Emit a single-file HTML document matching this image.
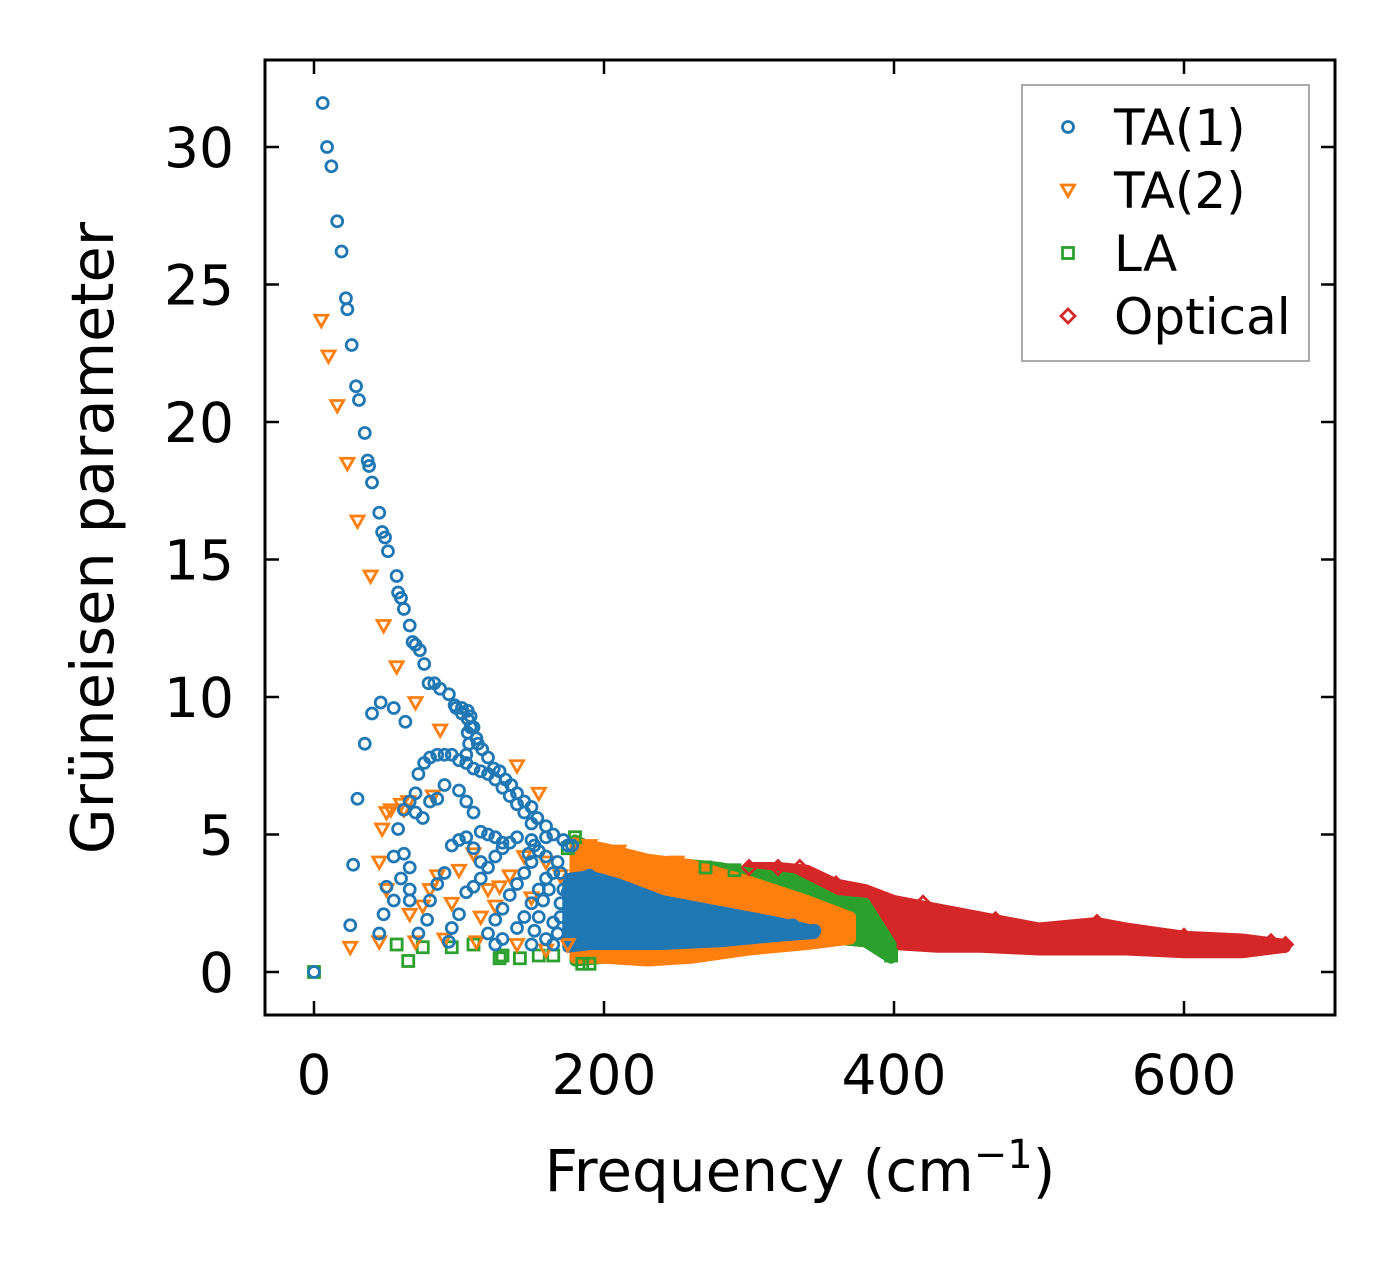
<!DOCTYPE html>
<html><head><meta charset="utf-8"><style>
html,body{margin:0;padding:0;background:#fff;}
svg{display:block;font-family:"DejaVu Sans","Liberation Sans",sans-serif;}
</style></head><body>
<svg id="chart" width="1394" height="1264" viewBox="0 0 1394 1264" xmlns="http://www.w3.org/2000/svg">
<g id="bands"></g><g id="marks"></g><g id="axes"></g><g id="legend"></g>
</svg>
<script>
// ---- data ----
const xTicks = [0, 200, 400, 600];
const yTicks = [0, 5, 10, 15, 20, 25, 30];
const seriesNames = ["TA(1)", "TA(2)", "LA", "Optical"];
const seriesColors = ["#1f77b4", "#ff7f0e", "#2ca02c", "#d62728"];

// dense bands: x, low, high
const opticalBandX = [300,320,340,360,380,400,430,460,500,540,560,600,640,670];
const opticalBandHi = [3.8,3.8,3.7,3.2,3.0,2.6,2.3,2.0,1.6,1.8,1.6,1.3,1.2,1.0];
const opticalBandLo = [1.5,1.4,1.3,1.2,1.1,1.0,0.9,0.9,0.8,0.8,0.8,0.7,0.7,0.9];
const laBandX = [180,200,240,280,300,330,360,380,398];
const laBandHi = [4.8,4.3,4.0,3.8,3.6,3.4,2.6,2.5,1.0];
const laBandLo = [0.4,0.5,0.6,0.7,0.9,1.1,1.2,1.1,0.5];
const ta2BandX = [180,200,230,260,300,340,370];
const ta2BandHi = [4.7,4.5,4.1,3.9,3.3,2.6,2.0];
const ta2BandLo = [0.5,0.5,0.4,0.5,0.8,1.0,1.2];
const ta1BandX = [175,190,210,240,280,320,345];
const ta1BandHi = [3.4,3.5,3.2,2.6,2.2,1.8,1.5];
const ta1BandLo = [0.9,1.0,1.0,1.0,1.1,1.3,1.4];

// scattered points
const ta1Points = [[0,0],[6,31.6],[9,30.0],[12,29.3],[16,27.3],[19,26.2],[22,24.5],[23,24.1],[26,22.8],[29,21.3],[31,20.8],[35,19.6],[37,18.6],[38,18.4],[40,17.8],[45,16.7],[47,16],[49,15.8],[51,15.3],[57,14.4],[58,13.8],[60,13.6],[62,13.2],[66,12.6],[68,12],[70,11.9],[73,11.7],[76,11.2],[79,10.5],[83,10.5],[87,10.3],[93,10.1],[98,9.6],[97,9.7],[102,9.6],[106,9.5],[108,9.3],[110,8.9],[113,8.3],[106,8.7],[107,8.3],[105,7.9],[102,9.4],[106,9.2],[108,8.9],[112,8.5],[116,8.1],[120,7.8],[124,7.4],[128,7.3],[132,7.0],[136,6.8],[140,6.5],[145,6.2],[150,6.0],[154,5.6],[160,5.3],[165,5.0],[172,4.8],[178,4.6],
[40,9.4],[46,9.8],[55,9.6],[35,8.3],[30,6.3],[27,3.9],[25,1.7],[63,9.1],[70,6.5],[72,7.2],[76,7.6],[80,7.8],[85,7.9],[90,7.9],[95,7.9],[100,7.7],[105,7.6],[110,7.4],[115,7.3],[120,7.2],[125,7.0],[130,6.7],[135,6.4],[140,6.1],[145,5.8],[150,5.4],
[45,1.4],[48,2.1],[50,3.1],[55,4.2],[58,5.2],[62,5.9],[66,6.2],[70,5.8],[75,5.6],[80,6.2],[85,6.3],[90,6.8],[100,6.6],[105,6.2],[110,5.8],[115,5.1],[120,5.0],[125,4.9],[130,4.7],[140,4.9],[150,4.8],[160,4.9],[175,4.6],
[55,2.6],[60,3.4],[62,4.3],[66,3.8],[66,3.0],[66,2.6],[72,1.4],[78,1.9],[80,2.6],[85,3.2],[90,3.6],[95,4.6],[100,4.8],[105,4.9],[110,4.5],[115,4.0],[93,1.1],[95,1.6],[100,2.1],[105,2.9],[110,3.1],[115,3.4],[120,3.8],[125,4.2],[130,4.5],[135,4.7],[120,1.4],[125,1.9],[130,2.3],[135,2.8],[140,3.2],[145,3.6],[150,4.0],[125,1.0],[130,1.2],[140,1.6],[145,2.0],[150,2.5],[155,3.0],[160,3.4],[165,3.6],[170,3.6],[160,1.2],[165,1.8],[170,2.5],[175,2.9],[180,3.2],[185,3.4],[190,3.5],[200,3.3],[210,2.9],[230,2.6],[260,2.0],[290,1.9],[330,1.7],[345,1.5],
[150,1.0],[152,1.5],[155,2.0],[158,2.6],[162,3.0],[165,1.0],[168,1.4],[170,2.0],[172,3.0],[155,4.4],[160,4.2],[168,4.0],[152,4.6],[148,4.3]];
const ta2Points = [[5,23.7],[10,22.4],[16,20.6],[23,18.5],[30,16.4],[39,14.4],[48,12.6],[57,11.1],[70,9.8],[87,8.8],[25,0.9],[45,1.1],[47,5.2],[45,4.0],[50,3.0],[50,5.8],[53,5.9],[60,6.1],[62,5.9],[65,6.2],[66,2.1],[70,1.1],[75,2.4],[80,3.0],[82,6.4],[85,3.5],[90,1.2],[95,2.5],[100,3.7],[110,4.3],[115,2.0],[120,3.0],[125,2.4],[128,3.1],[135,3.5],[140,7.5],[145,4.2],[150,2.7],[155,6.5],[160,4.0],[170,3.5],[175,1.0],[112,1.1],[140,1.0],[160,0.8],[190,4.6],[210,4.4],[250,4.0]];
const laPoints = [[0,0],[57,1.0],[65,0.4],[75,0.9],[95,0.9],[110,1.0],[128,0.5],[130,0.6],[142,0.5],[155,0.6],[165,0.6],[180,4.9],[175,4.5],[185,0.3],[190,0.3],[270,3.8],[290,3.7],[398,0.6]];
const opticalPoints = [[300,3.8],[320,3.8],[335,3.8],[360,3.2],[420,2.5],[470,1.9],[540,1.8],[600,1.3],[660,1.1],[670,1.0]];

// ---- scales ----
const X0 = 314, XS = 1.45, Y0 = 972, YS = 27.5;
const sx = v => X0 + v * XS;
const sy = v => Y0 - v * YS;
const NS = "http://www.w3.org/2000/svg";
function mk(tag, attrs, parent) {
  const e = document.createElementNS(NS, tag);
  for (const k in attrs) e.setAttribute(k, attrs[k]);
  parent.appendChild(e); return e;
}
const bands = document.getElementById("bands");
const marks = document.getElementById("marks");
const axes = document.getElementById("axes");
const legend = document.getElementById("legend");

function band(xs, lo, hi, color, name) {
  let pts = xs.map((x, i) => sx(x) + "," + sy(hi[i]));
  for (let i = xs.length - 1; i >= 0; i--) pts.push(sx(xs[i]) + "," + sy(lo[i]));
  const p = mk("polygon", {points: pts.join(" "), fill: color, stroke: color, "stroke-width": 11, "stroke-linejoin": "round"}, bands);
  
  
}
function marker(kind, cx, cy, color, parent) {
  let e;
  const sw = 2.8;
  if (kind === 0) e = mk("circle", {cx: cx, cy: cy, r: 5.5, fill: "none", stroke: color, "stroke-width": sw}, parent);
  else if (kind === 1) e = mk("polygon", {points: `${cx-6.5},${cy-5} ${cx+6.5},${cy-5} ${cx},${cy+6.5}`, fill: "none", stroke: color, "stroke-width": sw}, parent);
  else if (kind === 2) e = mk("rect", {x: cx-5.5, y: cy-5.5, width: 11, height: 11, fill: "none", stroke: color, "stroke-width": sw}, parent);
  else e = mk("polygon", {points: `${cx},${cy-7} ${cx+7},${cy} ${cx},${cy+7} ${cx-7},${cy}`, fill: "none", stroke: color, "stroke-width": sw}, parent);
  return e;
}
band(opticalBandX, opticalBandLo, opticalBandHi, seriesColors[3], "optical-band");
band(laBandX, laBandLo, laBandHi, seriesColors[2], "la-band");
band(ta2BandX, ta2BandLo, ta2BandHi, seriesColors[1], "ta2-band");
band(ta1BandX, ta1BandLo, ta1BandHi, seriesColors[0], "ta1-band");
const allPts = [opticalPoints, laPoints, ta2Points, ta1Points];
const kinds = [3, 2, 1, 0];
allPts.forEach((arr, si) => {
  const k = kinds[si];
  arr.forEach(p => {
    const e = marker(k, sx(p[0]), sy(p[1]), seriesColors[k], marks);
    
    
  });
});

// ---- axes ----
const L = 265, R = 1335, T = 60, B = 1015;
const frame = mk("rect", {x: L, y: T, width: R-L, height: B-T, fill: "none", stroke: "#000", "stroke-width": 3}, axes);


xTicks.forEach(v => {
  const x = sx(v);
  mk("line", {x1: x, y1: B, x2: x, y2: B-14, stroke: "#000", "stroke-width": 2.5}, axes);
  mk("line", {x1: x, y1: T, x2: x, y2: T+14, stroke: "#000", "stroke-width": 2.5}, axes);
  const t = mk("text", {x: x, y: 1094, "text-anchor": "middle", "font-size": 55}, axes);
  t.textContent = v;
  
  
});
yTicks.forEach(v => {
  const y = sy(v);
  mk("line", {x1: L, y1: y, x2: L+14, y2: y, stroke: "#000", "stroke-width": 2.5}, axes);
  mk("line", {x1: R, y1: y, x2: R-14, y2: y, stroke: "#000", "stroke-width": 2.5}, axes);
  const t = mk("text", {x: 234, y: y + 20, "text-anchor": "end", "font-size": 55}, axes);
  t.textContent = v;
  
  
});
const xl = mk("text", {x: 800, y: 1191, "text-anchor": "middle", "font-size": 58}, axes);
xl.innerHTML = 'Frequency (cm<tspan dy="-23" font-size="40">−1</tspan><tspan dy="23">)</tspan>';


const yl = mk("text", {x: 0, y: 0, "text-anchor": "middle", "font-size": 59, transform: "translate(113,538) rotate(-90)"}, axes);
yl.textContent = "Grüneisen parameter";



// ---- legend ----
const lb = mk("rect", {x: 1022, y: 85, width: 287, height: 276, fill: "#fff", stroke: "#aaa", "stroke-width": 2}, legend);


seriesNames.forEach((n, i) => {
  const y = 127 + i * 63;
  const m = marker(i, 1068, y, seriesColors[i], legend);
  
  
  const t = mk("text", {x: 1114, y: y + 18, "font-size": 50}, legend);
  t.textContent = n;
  
  
});
</script>
</body></html>
